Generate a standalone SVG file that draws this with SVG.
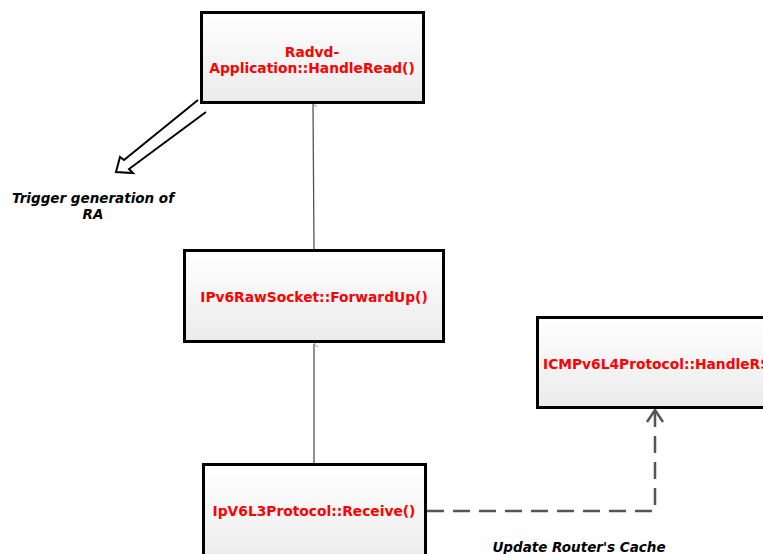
<svg xmlns="http://www.w3.org/2000/svg" width="763" height="554" viewBox="0 0 763 554">
<defs>
<linearGradient id="g" x1="0" y1="0" x2="0" y2="1">
<stop offset="0" stop-color="#ffffff"/>
<stop offset="1" stop-color="#ebebeb"/>
</linearGradient>
<marker id="small" markerWidth="8" markerHeight="8" refX="4" refY="1" orient="auto-start-reverse" markerUnits="userSpaceOnUse" viewBox="0 0 8 8">
<path d="M1,5 L4,1 L7,5" fill="none" stroke="#999" stroke-width="1"/>
</marker>
</defs>
<style>
.box{fill:url(#g);stroke:#000;stroke-width:3}
.lbl{font-family:"DejaVu Sans",Verdana,sans-serif;font-weight:bold;font-size:13.8px;fill:#ff0000;text-anchor:middle}
.note{font-family:"DejaVu Sans",Verdana,sans-serif;font-weight:bold;font-style:italic;font-size:13.5px;fill:#000;text-anchor:middle}
.solid{stroke:#555;stroke-width:1.3;fill:none}
.dash{stroke:#555;stroke-width:2.5;fill:none;stroke-dasharray:17 9}
</style>
<rect width="763" height="554" fill="#fff"/>
<g id="connectors">
<line class="solid" x1="314" y1="250" x2="313" y2="104" marker-end="url(#small)"/>
<line class="solid" x1="314" y1="464" x2="314" y2="344" marker-end="url(#small)"/>
<path class="dash" d="M427,511 H655 V412"/>
<path d="M647,422 L655,410 L663,422" fill="none" stroke="#555" stroke-width="2.5"/>
<polyline points="198,100 124,160 120,157 116,172 133,173 129,169 206,112" fill="none" stroke="#000" stroke-width="2" stroke-linejoin="miter"/>
</g>
<g id="radvd">
<rect class="box" x="201.5" y="12.5" width="222" height="90"/>
<text class="lbl" x="312" y="57">Radvd-</text>
<text class="lbl" x="312" y="73">Application::HandleRead()</text>
</g>
<g id="rawsocket">
<rect class="box" x="184.5" y="250.5" width="259" height="91"/>
<text class="lbl" x="314" y="302">IPv6RawSocket::ForwardUp()</text>
</g>
<g id="icmp">
<rect class="box" x="537.5" y="317.5" width="240" height="90"/>
<text class="lbl" x="543" y="369" style="text-anchor:start">ICMPv6L4Protocol::HandleRS</text>
</g>
<g id="l3">
<rect class="box" x="203.5" y="464.5" width="222" height="100"/>
<text class="lbl" x="314" y="516">IpV6L3Protocol::Receive()</text>
</g>
<g id="notes">
<text class="note" x="93" y="203">Trigger generation of</text>
<text class="note" x="93" y="219">RA</text>
<text class="note" x="579" y="552">Update Router's Cache</text>
</g>
</svg>
